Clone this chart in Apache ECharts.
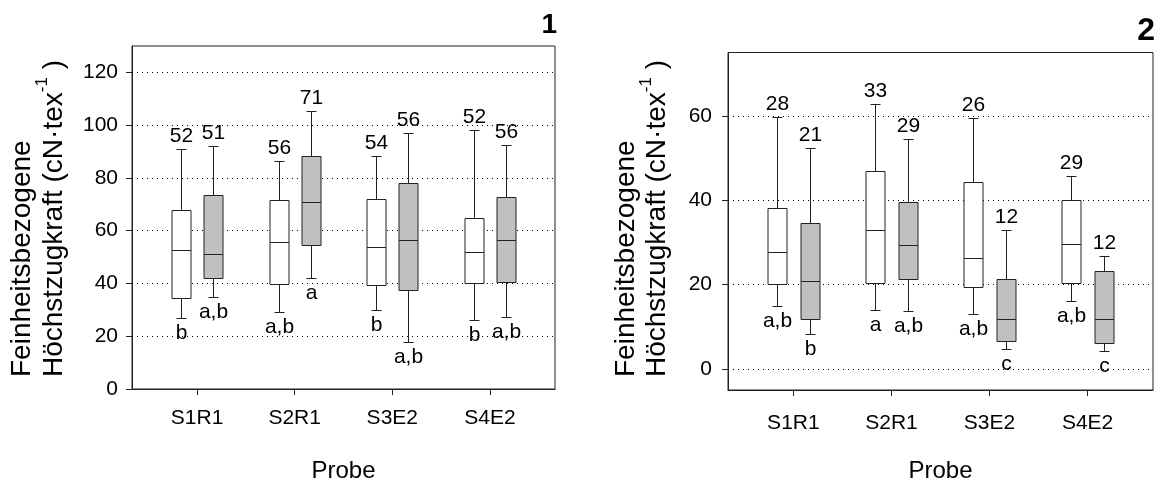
<!DOCTYPE html>
<html>
<head>
<meta charset="utf-8">
<script src="https://cdn.jsdelivr.net/npm/echarts@6/dist/echarts.min.js"></script>
<style>
html,body{margin:0;padding:0;background:#fff;}
#c{width:1155px;height:484px;}
</style>
</head>
<body>
<div id="c"></div>
<script>
// ---------- data ----------
const categories = ['S1R1', 'S2R1', 'S3E2', 'S4E2'];
const p1YTicks = [0, 20, 40, 60, 80, 100, 120];
const p2YTicks = [0, 20, 40, 60];

// [low whisker, Q1, median, Q3, high whisker]
const p1White = [[26.9, 34.5, 52.7, 67.9, 91.1], [29.1, 39.7, 55.7, 71.6, 86.4], [29.9, 39.5, 53.8, 72.2, 88.2], [26.0, 40.2, 51.8, 64.7, 98.2]];
const p1Gray  = [[34.7, 42.1, 51.3, 73.6, 92.0], [42.1, 54.6, 70.8, 88.2, 105.5], [17.9, 37.5, 56.4, 78.0, 96.9], [27.1, 40.4, 56.6, 72.6, 92.5]];
const p1WhiteN = [52, 56, 54, 52];
const p1GrayN  = [51, 71, 56, 56];
const p1WhiteSig = ['b', 'a,b', 'b', 'b'];
const p1GraySig  = ['a,b', 'a', 'a,b', 'a,b'];

const p2White = [[14.9, 20.1, 27.7, 38.2, 59.6], [14.0, 20.4, 32.9, 47.0, 62.7], [13.0, 19.3, 26.2, 44.3, 59.4], [16.2, 20.3, 29.5, 40.0, 45.8]];
const p2Gray  = [[8.3, 11.8, 20.9, 34.7, 52.3], [13.7, 21.3, 29.3, 39.5, 54.4], [4.7, 6.6, 11.8, 21.3, 32.9], [4.3, 6.2, 11.8, 23.1, 26.8]];
const p2WhiteN = [28, 33, 26, 29];
const p2GrayN  = [21, 29, 12, 12];
const p2WhiteSig = ['a,b', 'a', 'a,b', 'a,b'];
const p2GraySig  = ['b', 'a,b', 'c', 'c'];

// ---------- styling ----------
const FONT = 'Liberation Sans, Arial, sans-serif';
const LINE = '#222';
const BOX_W = 0.195;
const OFFSET = 0.165;
const CAP = 5;

function makeRender(offset, fill, nArr, sigArr) {
  return function (params, api) {
    const i = params.dataIndex;
    const xv = api.value(0) + offset;
    const lo = api.value(1), q1 = api.value(2), md = api.value(3), q3 = api.value(4), hi = api.value(5);
    const cx = Math.round(api.coord([xv, md])[0]) + 0.5;
    const yLo = Math.round(api.coord([xv, lo])[1]) + 0.5;
    const yQ1 = Math.round(api.coord([xv, q1])[1]) + 0.5;
    const yMd = Math.round(api.coord([xv, md])[1]) + 0.5;
    const yQ3 = Math.round(api.coord([xv, q3])[1]) + 0.5;
    const yHi = Math.round(api.coord([xv, hi])[1]) + 0.5;
    const w = Math.round(api.size([BOX_W, 0])[0]);
    const x0 = cx - w / 2, x1 = cx + w / 2;
    const ls = { stroke: LINE, lineWidth: 1 };
    return {
      type: 'group',
      children: [
        { type: 'line', shape: { x1: cx, y1: yHi, x2: cx, y2: yQ3 }, style: ls },
        { type: 'line', shape: { x1: cx, y1: yQ1, x2: cx, y2: yLo }, style: ls },
        { type: 'line', shape: { x1: cx - CAP, y1: yHi, x2: cx + CAP, y2: yHi }, style: ls },
        { type: 'line', shape: { x1: cx - CAP, y1: yLo, x2: cx + CAP, y2: yLo }, style: ls },
        { type: 'rect', shape: { x: x0, y: yQ3, width: w, height: yQ1 - yQ3 }, style: { fill: fill, stroke: LINE, lineWidth: 1 } },
        { type: 'line', shape: { x1: x0, y1: yMd, x2: x1, y2: yMd }, style: ls },
        { type: 'text', x: cx, y: yHi - 3, style: { text: String(nArr[i]), fill: '#000', font: '21px ' + FONT, align: 'center', verticalAlign: 'bottom' } },
        { type: 'text', x: cx, y: yLo + 4, style: { text: sigArr[i], fill: '#000', font: '21px ' + FONT, align: 'center', verticalAlign: 'top' } }
      ]
    };
  };
}

function toData(stats) {
  return stats.map((s, i) => [i + 1].concat(s));
}

function xAxisFor(gi, margin) {
  return {
    type: 'value', gridIndex: gi, min: 1 / 3, max: 14 / 3,
    axisLine: { show: true, onZero: false, lineStyle: { color: LINE, width: 1 } },
    axisTick: { show: true, length: 6, inside: false, customValues: [1, 2, 3, 4], lineStyle: { color: LINE } },
    axisLabel: { customValues: [1, 2, 3, 4], formatter: v => categories[Math.round(v) - 1] || '', color: '#000', fontSize: 21, fontFamily: FONT, margin: margin },
    splitLine: { show: false }
  };
}
function yAxisFor(gi, min, max, ticks, margin) {
  return {
    type: 'value', gridIndex: gi, min: min, max: max,
    axisLine: { show: true, onZero: false, lineStyle: { color: LINE, width: 1 } },
    axisTick: { show: true, length: 6, inside: false, customValues: ticks, lineStyle: { color: LINE } },
    axisLabel: { customValues: ticks, color: '#000', fontSize: 21, fontFamily: FONT, margin: margin },
    splitLine: { show: false }
  };
}
function gridLines(xi, ticks) {
  return {
    type: 'line', xAxisIndex: xi, yAxisIndex: xi, data: [], z: 0, silent: true,
    markLine: {
      silent: true, symbol: ['none', 'none'], animation: false,
      label: { show: false },
      lineStyle: { type: [1, 4], color: '#000', width: 1 },
      emphasis: { disabled: true },
      data: ticks.map(v => ({ yAxis: v }))
    }
  };
}

const chart = echarts.init(document.getElementById('c'), null, { renderer: 'canvas' });
chart.setOption({
  animation: false,
  backgroundColor: '#fff',
  textStyle: { fontFamily: FONT },
  grid: [
    { left: 132, top: 46, width: 423, height: 343, show: true, borderColor: LINE, borderWidth: 1, backgroundColor: 'transparent', containLabel: false, outerBoundsMode: 'none' },
    { left: 728, top: 52.5, width: 425, height: 337.5, show: true, borderColor: LINE, borderWidth: 1, backgroundColor: 'transparent', containLabel: false, outerBoundsMode: 'none' }
  ],
  xAxis: [xAxisFor(0, 19), xAxisFor(1, 23)],
  yAxis: [yAxisFor(0, 0, 130, p1YTicks, 14), yAxisFor(1, -5, 75, p2YTicks, 16)],
  series: [
    gridLines(0, p1YTicks.filter(v => v > 0)),
    gridLines(1, p2YTicks),
    { type: 'custom', xAxisIndex: 0, yAxisIndex: 0, z: 5, data: toData(p1White), renderItem: makeRender(-OFFSET, '#ffffff', p1WhiteN, p1WhiteSig) },
    { type: 'custom', xAxisIndex: 0, yAxisIndex: 0, z: 5, data: toData(p1Gray), renderItem: makeRender(OFFSET, '#c0c0c0', p1GrayN, p1GraySig) },
    { type: 'custom', xAxisIndex: 1, yAxisIndex: 1, z: 5, data: toData(p2White), renderItem: makeRender(-OFFSET, '#ffffff', p2WhiteN, p2WhiteSig) },
    { type: 'custom', xAxisIndex: 1, yAxisIndex: 1, z: 5, data: toData(p2Gray), renderItem: makeRender(OFFSET, '#c0c0c0', p2GrayN, p2GraySig) }
  ],
  graphic: [
    { type: 'text', x: 343.5, y: 471.5, style: { text: 'Probe', font: '24px ' + FONT, fill: '#000', align: 'center', verticalAlign: 'middle' } },
    { type: 'text', x: 940.5, y: 471.5, style: { text: 'Probe', font: '24px ' + FONT, fill: '#000', align: 'center', verticalAlign: 'middle' } },
    { type: 'text', x: 557, y: 25, style: { text: '1', font: 'bold 28px ' + FONT, fill: '#000', align: 'right', verticalAlign: 'middle' } },
    { type: 'text', x: 1155, y: 31, style: { text: '2', font: 'bold 32px ' + FONT, fill: '#000', align: 'right', verticalAlign: 'middle' } },
    // y-axis titles (rotated)
    { type: 'text', x: 22.5, y: 377, rotation: Math.PI / 2, style: { text: 'Feinheitsbezogene', font: '28px ' + FONT, fill: '#000', align: 'left', verticalAlign: 'middle' } },
    { type: 'text', x: 51.2, y: 377, rotation: Math.PI / 2, style: {
        text: '{m|Höchstzugkraft (cN·tex}{s|-1}{m| )}', align: 'left', verticalAlign: 'middle', fill: '#000',
        rich: { m: { fontSize: 28, fontFamily: FONT, verticalAlign: 'bottom' }, s: { fontSize: 17, fontFamily: FONT, verticalAlign: 'top', padding: [0, 0, 17, 0] } } } },
    { type: 'text', x: 626, y: 377, rotation: Math.PI / 2, style: { text: 'Feinheitsbezogene', font: '28px ' + FONT, fill: '#000', align: 'left', verticalAlign: 'middle' } },
    { type: 'text', x: 654.7, y: 377, rotation: Math.PI / 2, style: {
        text: '{m|Höchstzugkraft (cN·tex}{s|-1}{m| )}', align: 'left', verticalAlign: 'middle', fill: '#000',
        rich: { m: { fontSize: 28, fontFamily: FONT, verticalAlign: 'bottom' }, s: { fontSize: 17, fontFamily: FONT, verticalAlign: 'top', padding: [0, 0, 17, 0] } } } }
  ]
});
</script>
</body>
</html>
